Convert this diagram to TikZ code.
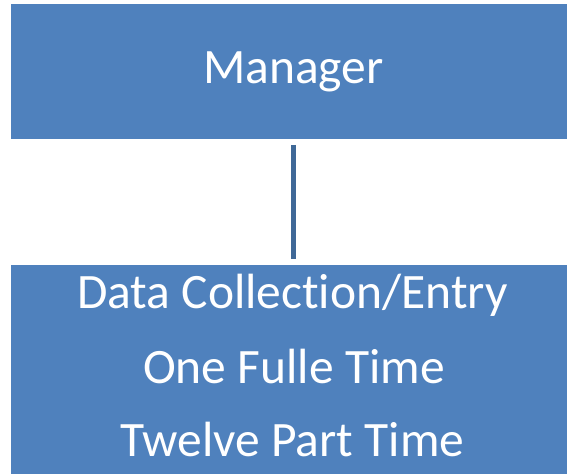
\documentclass[tikz,border=0pt]{standalone}
\usepackage{fontspec}
\setmainfont{Carlito}[Ligatures={NoCommon}]
\definecolor{boxblue}{HTML}{4F81BD}
\definecolor{lineblue}{HTML}{3F6897}
\begin{document}
\begin{tikzpicture}[x=1pt,y=1pt,
  orgbox/.style={fill=boxblue,draw=none,minimum width=556pt,inner sep=0pt,outer sep=0pt},
  lbl/.style={text=white,font=\fontsize{49.5}{58}\selectfont,anchor=base,inner sep=0pt},
  link/.style={draw=lineblue,line width=5.5pt,shorten <=6pt,shorten >=6pt}]
\useasboundingbox (0,0) rectangle (568,474);
\node[orgbox,minimum height=135pt] (top) at (289,402.5) {};
\node[orgbox,minimum height=209pt] (bot) at (289,104.5) {};
\draw[link] ([xshift=4.5pt]top.south) -- ([xshift=4.5pt]bot.north);
\node[lbl] (mgr) at (293.5,390) {Manager};
\node[lbl] (l1) at (292.5,165) {Data Collection/Entry};
\node[lbl] (l2) at (294,90) {One Fulle Time};
\node[lbl] (l3) at (292.5,17) {Twelve Part Time};
\end{tikzpicture}
\end{document}
